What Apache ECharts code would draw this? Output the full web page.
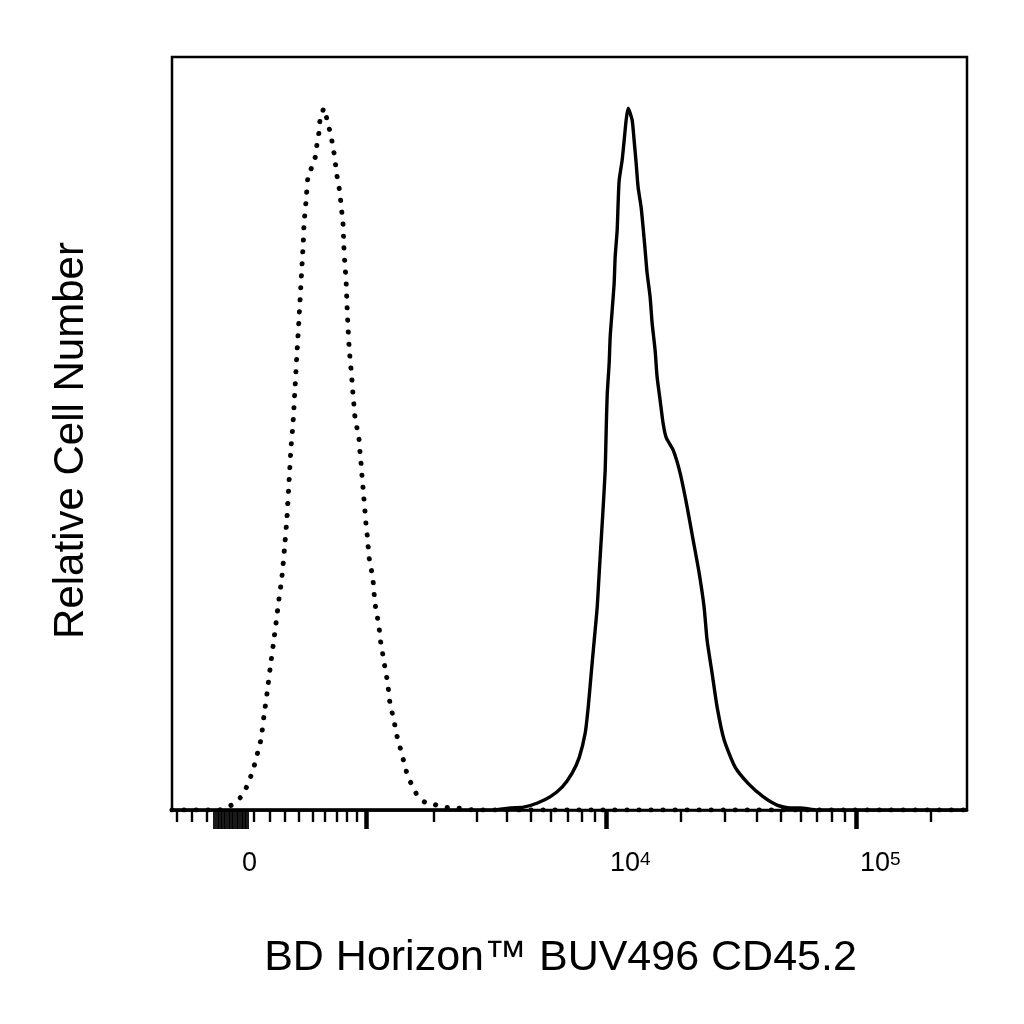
<!DOCTYPE html>
<html>
<head>
<meta charset="utf-8">
<script src="https://cdn.jsdelivr.net/npm/echarts@6/dist/echarts.min.js"></script>
<style>html,body{margin:0;padding:0;background:#fff}#chart{width:1024px;height:1024px}</style>
</head>
<body>
<div id="chart"></div>
<script>
// ---- data (fluorescence intensity vs. % of mode) ----
const isotypeIntensity = [-437, -120, -50, -19, 25, 62, 87, 106, 125, 144, 163, 183, 202, 222, 241, 261, 281, 302, 315, 329, 343, 357, 371, 385, 400, 414, 429, 437, 452, 466, 497, 528, 536, 552, 560, 593, 626, 652, 668, 687, 696, 714, 732, 741, 759, 768, 777, 789, 798, 808, 818, 827, 837, 847, 856, 866, 876, 898, 919, 929, 940, 950, 961, 971, 982, 992, 1005, 1017, 1028, 1051, 1073, 1085, 1096, 1121, 1146, 1158, 1183, 1208, 1233, 1260, 1273, 1300, 1341, 1367, 1412, 1456, 1500, 1544, 1626, 1707, 1830, 1960, 2181, 2447, 3000, 278000];
const isotypeCount = [0, 0, 0.6, 0.9, 2.1, 3.7, 5.3, 6.7, 8.4, 10.1, 13.4, 16.7, 20.1, 23.4, 26.6, 30.1, 33.3, 38.3, 41.7, 46.7, 51.7, 55.1, 60.1, 65.1, 70.1, 75.1, 80.2, 83.6, 86.9, 90.2, 91.7, 93.4, 95.0, 96.6, 98.3, 100, 97.7, 96.2, 94.4, 92.9, 91.2, 89.5, 87.9, 86.2, 83.8, 80.3, 77.9, 75.4, 71.9, 68.7, 66.1, 64.4, 62.8, 61.1, 59.4, 57.8, 56.1, 54.4, 52.8, 51.0, 49.4, 47.7, 46.0, 44.4, 42.7, 41.0, 39.5, 37.7, 36.0, 34.5, 32.8, 31.1, 29.5, 27.8, 26.1, 24.5, 22.8, 21.1, 19.5, 17.8, 16.1, 14.5, 12.8, 11.1, 9.5, 7.8, 6.3, 4.7, 3.3, 1.9, 1.1, 0.9, 0.4, 0.3, 0, 0];

const stainedIntensity = [-437, 3500, 4137, 4664, 5305, 5979, 6677, 7321, 7810, 8254, 8486, 8723, 8968, 9218, 9389, 9564, 9741, 9922, 10014, 10107, 10294, 10390, 10583, 10779, 10879, 11081, 11183, 11287, 11603, 11819, 12039, 12263, 12723, 12959, 13200, 13446, 13822, 14079, 14341, 14607, 15017, 15296, 15725, 16017, 16466, 16927, 17401, 18561, 19801, 21117, 22315, 23583, 24695, 25387, 26584, 27830, 29685, 32856, 37033, 42520, 48362, 54525, 59772, 70000, 278000];
const stainedCount = [0, 0, 0.3, 0.4, 1.0, 1.9, 3.3, 5.3, 7.5, 11.0, 14.7, 19.5, 24.2, 28.9, 33.8, 38.5, 43.2, 48.4, 54.1, 59.1, 63.7, 67.4, 71.2, 75.1, 78.8, 82.6, 86.5, 89.7, 92.6, 95.4, 98.3, 100, 98.3, 95.4, 92.2, 88.7, 85.9, 83.0, 79.8, 76.5, 73.1, 69.4, 65.5, 61.7, 58.4, 55.1, 53.1, 51.3, 48.0, 43.2, 38.5, 33.8, 28.9, 24.2, 19.5, 14.7, 10.0, 6.1, 3.8, 1.9, 0.7, 0.3, 0.3, 0, 0];

// axis ticks (intensity values)
const majorTicks = [1000, 10000, 100000];
const nearZeroTicks = [-150, -140, -130, -120, -110, -100, -90, -80, -70, -60, -50, -40, -30, -20, -10, 0, 10, 20, 30, 40, 50, 60];
const minorTicks = [-400, -300, -200, 100, 200, 300, 400, 500, 600, 700, 800, 900,
  2000, 3000, 4000, 5000, 6000, 7000, 8000, 9000,
  20000, 30000, 40000, 50000, 60000, 70000, 80000, 90000, 200000];
const labelValues = [0, 10000, 100000];
const labelBase = ['0', '10', '10'];
const labelExp = ['', '4', '5'];
const xRange = [-437, 278000];
const yMax = 107.3;

const xTitle = 'BD Horizon™ BUV496 CD45.2';
const yTitle = 'Relative Cell Number';

// biexponential-like display transform
const A = 108.6, C = 676;
const T = v => A * Math.asinh(v / C);

const FONT = 'Liberation Sans, Arial, sans-serif';

const toPairs = (xs, ys) => xs.map((x, i) => [T(x), ys[i]]);

const baseAxis = {
  type: 'value', gridIndex: 0, position: 'bottom', offset: 0,
  min: T(xRange[0]), max: T(xRange[1]),
  splitLine: { show: false },
  axisLabel: { show: false },
  axisLine: { show: false }
};

const chart = echarts.init(document.getElementById('chart'), null, { renderer: 'canvas' });
chart.setOption({
  animation: false,
  backgroundColor: '#fff',
  grid: { left: 172, right: 57, top: 57, bottom: 214, show: true, borderColor: '#000', borderWidth: 2.5, backgroundColor: 'transparent' },
  xAxis: [
    Object.assign({}, baseAxis, {
      axisLine: { show: true, lineStyle: { color: '#000', width: 2.5 } },
      axisTick: { show: true, length: 19, customValues: majorTicks.map(T), lineStyle: { color: '#000', width: 4.5 } },
      axisLabel: {
        show: true, customValues: labelValues.map(T), align: 'left', margin: 40,
        padding: [0, 0, 0, 4],
        formatter: function (val) {
          let idx = 0, best = Infinity;
          labelValues.forEach((v, i) => { const d = Math.abs(T(v) - val); if (d < best) { best = d; idx = i; } });
          return '{b|' + labelBase[idx] + '}' + (labelExp[idx] ? '{s|' + labelExp[idx] + '}' : '');
        },
        rich: {
          b: { fontFamily: FONT, fontSize: 27, color: '#000', lineHeight: 27, padding: [9, 0, 0, 0], verticalAlign: 'bottom' },
          s: { fontFamily: FONT, fontSize: 19, color: '#000', lineHeight: 19, verticalAlign: 'top' }
        }
      },
      name: xTitle, nameLocation: 'middle', nameGap: 127,
      nameTextStyle: { fontFamily: FONT, fontSize: 43, color: '#000', padding: [0, 18, 0, 0] }
    }),
    Object.assign({}, baseAxis, {
      axisTick: { show: true, length: 19, customValues: nearZeroTicks.map(T), lineStyle: { color: '#000', width: 1.8 } }
    }),
    Object.assign({}, baseAxis, {
      axisTick: { show: true, length: 12, customValues: minorTicks.map(T), lineStyle: { color: '#000', width: 2.4 } }
    })
  ],
  yAxis: {
    type: 'value', min: 0, max: yMax,
    axisLine: { show: false }, axisTick: { show: false }, axisLabel: { show: false }, splitLine: { show: false },
    name: yTitle, nameLocation: 'middle', nameGap: 80, nameRotate: 90,
    nameTextStyle: { fontFamily: FONT, fontSize: 42, color: '#000', padding: [0, 14, 0, 0] }
  },
  series: [
    {
      name: 'Isotype', type: 'line', xAxisIndex: 0, yAxisIndex: 0,
      data: toPairs(isotypeIntensity, isotypeCount),
      showSymbol: false, smooth: 0.2,
      lineStyle: { color: '#000', width: 5, type: [0.1, 11.9], cap: 'round' }
    },
    {
      name: 'CD45.2', type: 'line', xAxisIndex: 0, yAxisIndex: 0,
      data: toPairs(stainedIntensity, stainedCount),
      showSymbol: false, smooth: 0.2,
      lineStyle: { color: '#000', width: 3.4 }
    }
  ]
});
</script>
</body>
</html>
